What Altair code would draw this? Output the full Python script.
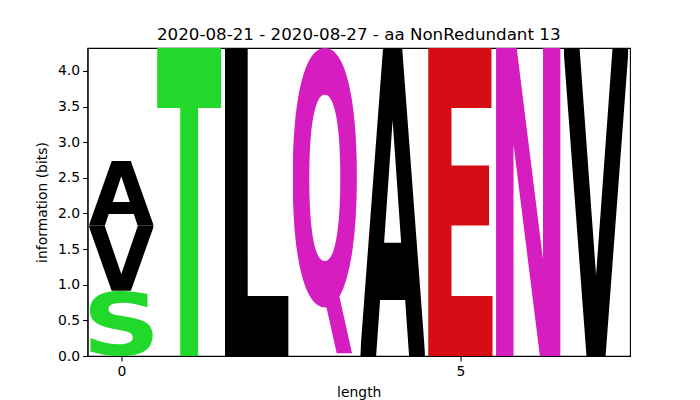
import base64
import altair as alt
import pandas as pd

# ---- data ----
positions = [0, 0, 0, 1, 2, 3, 4, 5, 6, 7]
letters = ["S", "V", "A", "T", "L", "Q", "A", "E", "N", "V"]
heights = [0.915, 0.912, 0.915, 4.3219, 4.3219, 4.3219, 4.3219, 4.3219, 4.3219, 4.3219]
y_ticks = [0.0, 0.5, 1.0, 1.5, 2.0, 2.5, 3.0, 3.5, 4.0]
x_ticks = [0, 5]

# ---- styles ----
colors = {"S": "#22d82a", "T": "#22d82a", "V": "#000000", "A": "#000000",
          "L": "#000000", "Q": "#d61ec0", "E": "#d50e16", "N": "#d61ec0"}
# approximate ink boxes of DejaVu Sans Bold glyphs (em units): xmin, xmax, ymin, ymax
glyph_box = {
    "A": (0.010, 0.765, 0.0, 0.729),
    "V": (0.010, 0.765, 0.0, 0.729),
    "S": (0.066, 0.656, -0.014, 0.742),
    "T": (0.003, 0.680, 0.0, 0.729),
    "L": (0.094, 0.617, 0.0, 0.729),
    "Q": (0.049, 0.802, -0.154, 0.742),
    "E": (0.094, 0.609, 0.0, 0.729),
    "N": (0.094, 0.743, 0.0, 0.729),
}
glyph_width = 0.95


def glyph_url(ch):
    x0, x1, y0, y1 = glyph_box[ch]
    vb = f"{x0*1000:.1f} {-y1*1000:.1f} {(x1-x0)*1000:.1f} {(y1-y0)*1000:.1f}"
    svg = (
        f'<svg xmlns="http://www.w3.org/2000/svg" width="{(x1-x0)*100:.1f}" height="{(y1-y0)*100:.1f}" '
        f'viewBox="{vb}" preserveAspectRatio="none">'
        f'<text x="0" y="0" font-family="DejaVu Sans" font-weight="bold" font-size="1000" '
        f'fill="{colors[ch]}">{ch}</text></svg>'
    )
    return "data:image/svg+xml;base64," + base64.b64encode(svg.encode()).decode()


df = pd.DataFrame({"pos": positions, "letter": letters, "h": heights})
df["y1"] = df.groupby("pos")["h"].cumsum()
df["y0"] = df["y1"] - df["h"]
df["x0"] = df["pos"] - glyph_width / 2
df["x1"] = df["pos"] + glyph_width / 2
df["url"] = [glyph_url(c) for c in df["letter"]]

font = "DejaVu Sans"

chart = (
    alt.Chart(df, title=alt.TitleParams(
        "2020-08-21 - 2020-08-27 - aa NonRedundant 13",
        font=font, fontSize=16.7, fontWeight="normal", color="black", offset=4))
    .mark_image(aspect=False)
    .encode(
        x=alt.X("x0:Q", scale=alt.Scale(domain=[-0.5, 7.5], nice=False, zero=False),
                axis=alt.Axis(title="length", values=x_ticks, format="d")),
        x2="x1:Q",
        y=alt.Y("y0:Q", scale=alt.Scale(domain=[0, 4.3219], nice=False),
                axis=alt.Axis(title="information (bits)", values=y_ticks, format=".1f")),
        y2="y1:Q",
        url="url:N",
    )
    .properties(
        width=542.5, height=308,
        padding={"left": 87.5, "top": 48, "right": 70, "bottom": 44},
        autosize="none",
    )
    .configure_view(stroke="black", strokeWidth=1.1)
    .configure_axis(
        grid=False, domainColor="black", domainWidth=1.1,
        tickColor="black", tickWidth=1.1, tickSize=4.9,
        labelFont=font, labelFontSize=13.9, labelColor="black", labelPadding=3,
        titleFont=font, titleFontSize=13.9, titleFontWeight="normal", titleColor="black",
    )
    .configure_axisY(titlePadding=8)
    .configure_axisX(titlePadding=7, labelPadding=4)
)

chart.save("out.html", embed_options={"renderer": "svg", "actions": False})
